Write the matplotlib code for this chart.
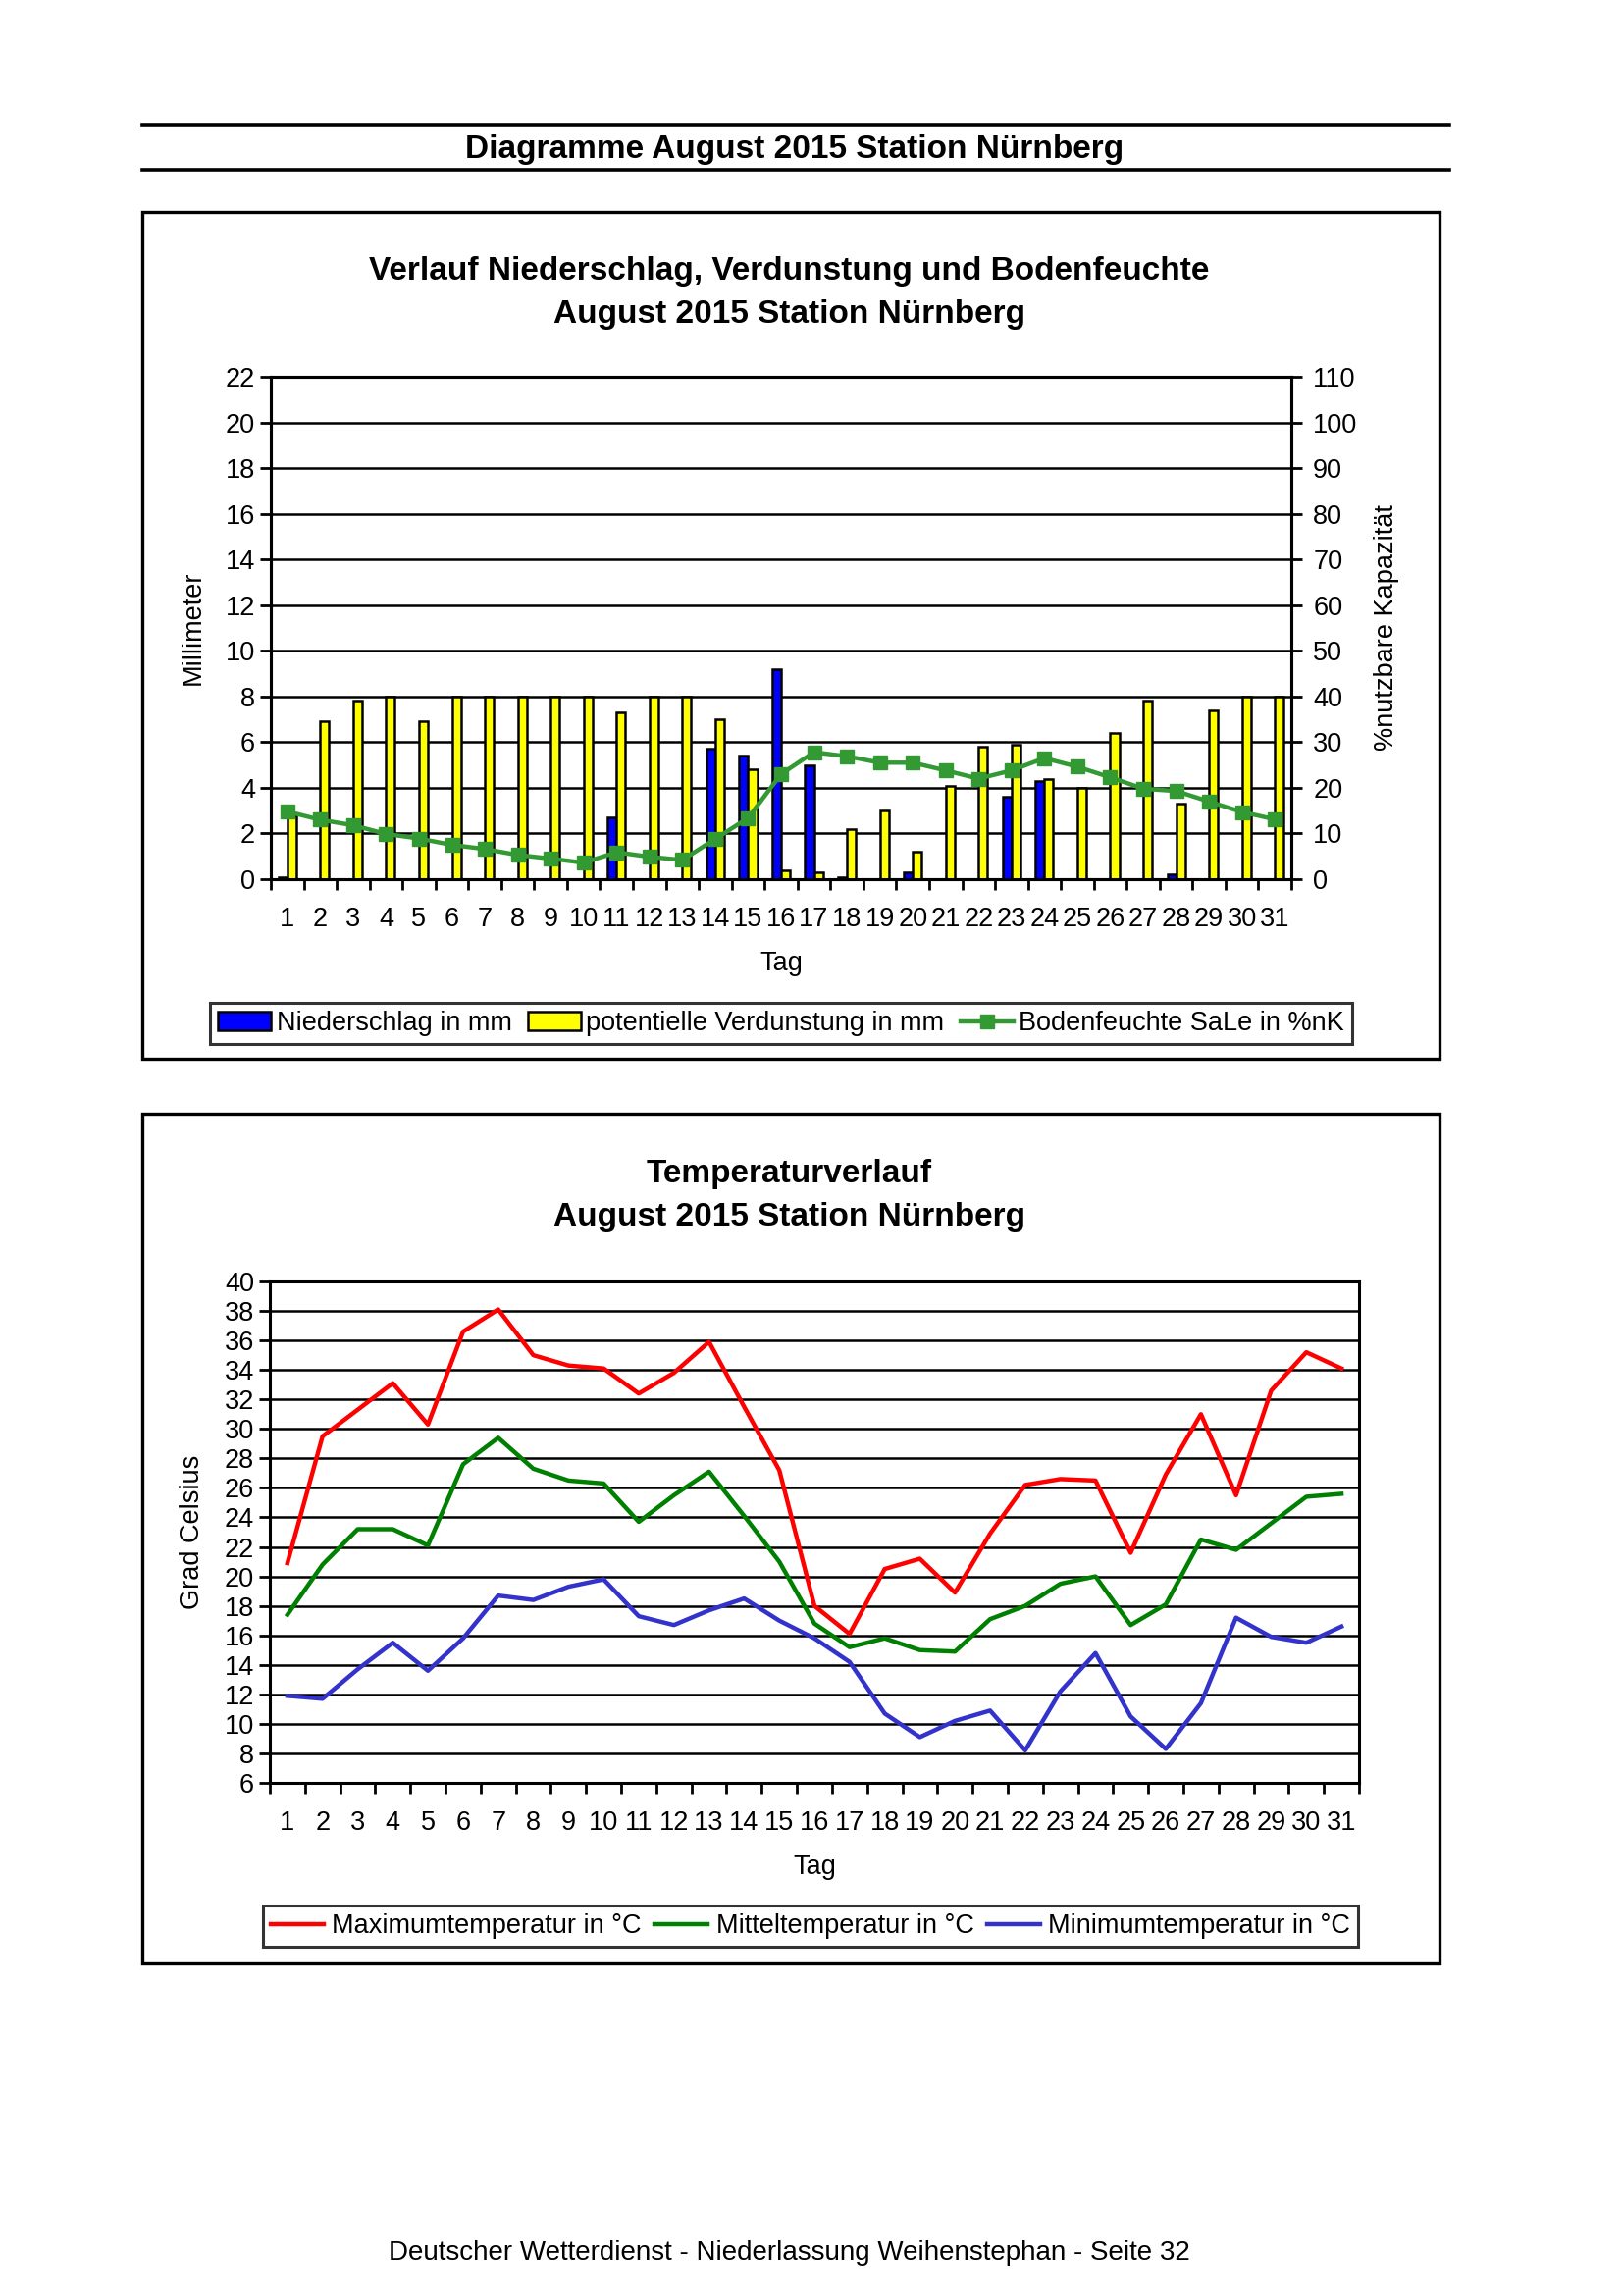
import matplotlib
matplotlib.use("Agg")
import matplotlib.pyplot as plt
from matplotlib.patches import Rectangle
from matplotlib.lines import Line2D
import numpy as np

plt.rcParams['font.family'] = ['Liberation Sans', 'DejaVu Sans']

# ---------------- data ----------------
days = list(range(1, 32))
niederschlag = [0.1, 0, 0, 0, 0, 0, 0, 0, 0, 0, 2.7, 0, 0, 5.7, 5.4, 9.2, 5.0, 0.1, 0, 0.3,
                0, 0, 3.6, 4.3, 0, 0, 0, 0.2, 0, 0, 0]
verdunstung = [2.8, 6.9, 7.8, 8.0, 6.9, 8.0, 8.0, 8.0, 8.0, 8.0, 7.3, 8.0, 8.0, 7.0, 4.8, 0.4,
               0.3, 2.2, 3.0, 1.2, 4.1, 5.8, 5.9, 4.4, 4.0, 6.4, 7.8, 3.3, 7.4, 8.0, 8.0]
bodenfeuchte = [14.8, 13.0, 11.8, 9.9, 8.9, 7.5, 6.6, 5.3, 4.5, 3.6, 5.9, 4.9, 4.2, 8.8, 13.4,
                23.0, 27.8, 26.9, 25.5, 25.5, 23.8, 22.0, 23.8, 26.5, 24.6, 22.3, 19.8, 19.3,
                17.0, 14.7, 13.1]
tmax = [20.9, 29.5, 31.3, 33.1, 30.3, 36.6, 38.1, 35.0, 34.3, 34.1, 32.4, 33.8, 35.9, 31.5,
        27.2, 18.0, 16.1, 20.5, 21.2, 18.9, 22.9, 26.2, 26.6, 26.5, 21.6, 26.9, 31.0, 25.5,
        32.6, 35.2, 34.1]
tmittel = [17.4, 20.8, 23.2, 23.2, 22.1, 27.6, 29.4, 27.3, 26.5, 26.3, 23.7, 25.5, 27.1, 24.1,
           21.0, 16.8, 15.2, 15.8, 15.0, 14.9, 17.1, 18.0, 19.5, 20.0, 16.7, 18.1, 22.5, 21.8,
           23.6, 25.4, 25.6]
tmin = [11.9, 11.7, 13.7, 15.5, 13.6, 15.8, 18.7, 18.4, 19.3, 19.8, 17.3, 16.7, 17.7, 18.5,
        17.0, 15.8, 14.2, 10.7, 9.1, 10.2, 10.9, 8.2, 12.2, 14.8, 10.5, 8.3, 11.4, 17.2,
        15.9, 15.5, 16.6]

W, H = 1653, 2340
fig = plt.figure(figsize=(W / 100, H / 100), dpi=100)
fig.patch.set_facecolor('white')


def rect(x0, y0, x1, y1):
    return [x0 / W, 1 - y1 / H, (x1 - x0) / W, (y1 - y0) / H]


def fx(px):
    return px / W


def fy(py):
    return 1 - py / H


TICK_FS = 19.5
TITLE_FS = 24

# header
for yy in (127, 173):
    fig.add_artist(Line2D([fx(145), fx(1477)], [fy(yy), fy(yy)], color='black', lw=2.6))
fig.text(fx(810), fy(153), "Diagramme August 2015 Station Nürnberg", ha='center', va='center',
         fontsize=TITLE_FS, fontweight='bold')

# boxes
for (x0, y0, x1, y1) in [(145, 216, 1467, 1079), (145, 1135, 1467, 2001)]:
    fig.add_artist(Rectangle((fx(x0), fy(y1)), (x1 - x0) / W, (y1 - y0) / H, fill=False,
                             edgecolor='black', lw=2.4, transform=fig.transFigure))

# footer
fig.text(fx(804), fy(2296), "Deutscher Wetterdienst - Niederlassung Weihenstephan - Seite 32",
         ha='center', va='center', fontsize=20)


def style_axis(ax):
    for s in ax.spines.values():
        s.set_linewidth(2.2)
        s.set_color('black')
    ax.set_xlim(0.5, 31.5)
    ax.set_xticks(days)
    ax.set_xticklabels([str(d) for d in days], fontsize=TICK_FS)
    ax.set_xticks(np.arange(0.5, 32, 1), minor=True)
    ax.tick_params(axis='x', which='major', length=0, pad=20)
    ax.tick_params(axis='x', which='minor', length=8, width=2, direction='out', color='black')
    ax.tick_params(axis='y', which='major', length=8, width=2, direction='out', labelsize=TICK_FS)
    ax.grid(axis='y', color='black', lw=1.8)
    ax.set_axisbelow(True)


# ---------------- chart 1 ----------------
fig.text(fx(804), fy(277), "Verlauf Niederschlag, Verdunstung und Bodenfeuchte", ha='center',
         va='center', fontsize=TITLE_FS, fontweight='bold')
fig.text(fx(804), fy(320), "August 2015 Station Nürnberg", ha='center', va='center',
         fontsize=TITLE_FS, fontweight='bold')

ax1 = fig.add_axes(rect(276, 384, 1316, 896))
style_axis(ax1)
ax1.set_ylim(0, 22)
ax1.set_yticks(range(0, 23, 2))
x = np.array(days)
bw = 0.27
b1 = ax1.bar(x - bw, niederschlag, width=bw, align='edge', color='#0000FF', edgecolor='black',
             lw=1.8, label='Niederschlag in mm', zorder=3)
b2 = ax1.bar(x, verdunstung, width=bw, align='edge', color='#FFFF00', edgecolor='black',
             lw=1.8, label='potentielle Verdunstung in mm', zorder=3)
ax1.set_ylabel("Millimeter", fontsize=TICK_FS, labelpad=14)
ax1.set_xlabel("Tag", fontsize=TICK_FS, labelpad=14)

ax1r = ax1.twinx()
ax1r.set_ylim(0, 110)
ax1r.set_yticks(range(0, 111, 10))
ax1r.tick_params(axis='y', length=8, width=2, direction='out', labelsize=TICK_FS, pad=8)
for s in ax1r.spines.values():
    s.set_linewidth(2.2)
l1, = ax1r.plot(x, bodenfeuchte, color='#339933', lw=3.2, marker='s', markersize=10.5,
                label='Bodenfeuchte SaLe in %nK', zorder=4)
ax1r.set_ylabel("%nutzbare Kapazität", fontsize=TICK_FS, labelpad=12)

leg1 = fig.legend([b1, b2, l1], [b1.get_label(), b2.get_label(), l1.get_label()],
                  loc='center', bbox_to_anchor=(fx(796), fy(1043)), ncol=3, fontsize=TICK_FS,
                  frameon=True, fancybox=False, edgecolor='black', handlelength=2.0,
                  handletextpad=0.2, columnspacing=0.6, borderpad=0.3)
leg1.get_frame().set_linewidth(2.2)

# ---------------- chart 2 ----------------
fig.text(fx(804), fy(1197), "Temperaturverlauf", ha='center', va='center', fontsize=TITLE_FS,
         fontweight='bold')
fig.text(fx(804), fy(1241), "August 2015 Station Nürnberg", ha='center', va='center',
         fontsize=TITLE_FS, fontweight='bold')

ax2 = fig.add_axes(rect(275, 1306, 1385, 1817))
style_axis(ax2)
ax2.set_ylim(6, 40)
ax2.set_yticks(range(6, 41, 2))
p1, = ax2.plot(x, tmax, color='#FF0000', lw=3.2, label='Maximumtemperatur in °C', zorder=3)
p2, = ax2.plot(x, tmittel, color='#008000', lw=3.2, label='Mitteltemperatur in °C', zorder=3)
p3, = ax2.plot(x, tmin, color='#3333CC', lw=3.2, label='Minimumtemperatur in °C', zorder=3)
ax2.set_ylabel("Grad Celsius", fontsize=TICK_FS, labelpad=14)
ax2.set_xlabel("Tag", fontsize=TICK_FS, labelpad=14)

leg2 = fig.legend([p1, p2, p3], [p1.get_label(), p2.get_label(), p3.get_label()],
                  loc='center', bbox_to_anchor=(fx(826), fy(1963)), ncol=3, fontsize=TICK_FS,
                  frameon=True, fancybox=False, edgecolor='black', handlelength=2.0,
                  handletextpad=0.3, columnspacing=0.5, borderpad=0.3)
leg2.get_frame().set_linewidth(2.2)

fig.savefig("out.png", dpi=100, facecolor='white')
